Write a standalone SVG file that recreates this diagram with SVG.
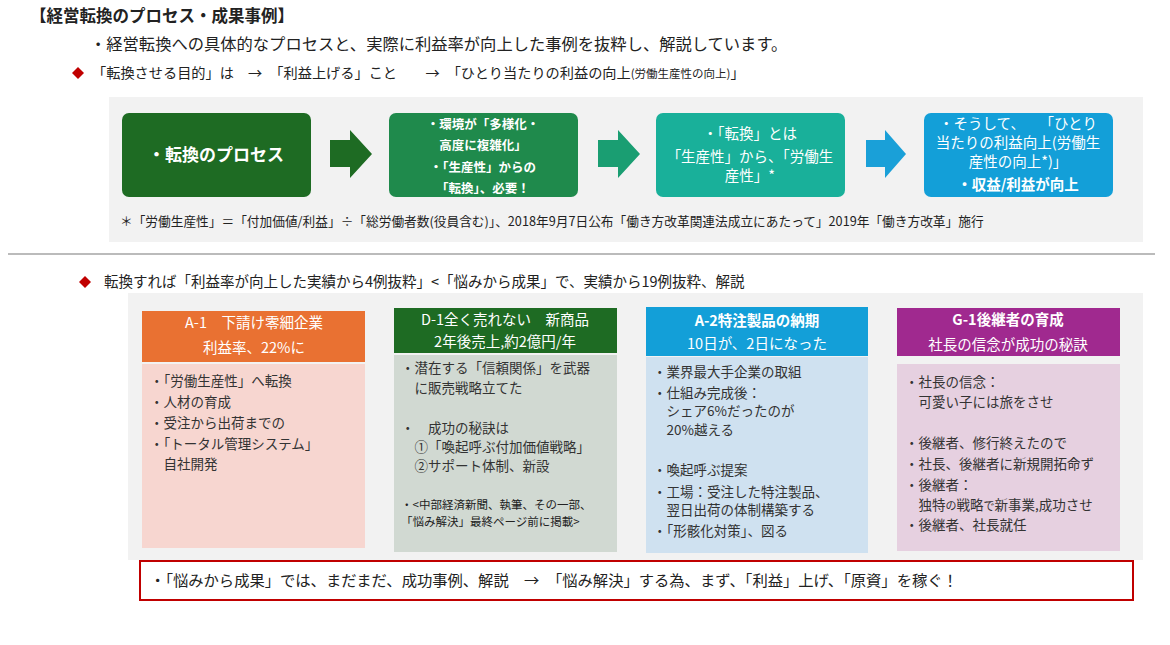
<svg xmlns="http://www.w3.org/2000/svg" width="1170" height="645" viewBox="0 0 1170 645">
<style>
text{font-family:"Noto Sans CJK JP","Noto Sans",sans-serif;fill:#222;}
.w{fill:#fff;}
.b{font-weight:bold;}
.c{text-anchor:middle;}
.body{font-size:13.5px;fill:#333;}
.hd{font-size:14.5px;fill:#fff;text-anchor:middle;}
</style>
<defs>
<path id="diam" d="M0,-6 L6,0 L0,6 L-6,0Z" fill="#c00000"/>
</defs>
<rect width="1170" height="645" fill="#fff"/>

<g id="header">
<text x="30" y="22" font-size="16.5" class="b">【経営転換のプロセス・成果事例】</text>
<text x="90" y="50" font-size="16.3">・経営転換への具体的なプロセスと、実際に利益率が向上した事例を抜粋し、解説しています。</text>
<use href="#diam" x="78" y="73"/>
<text x="92" y="78" font-size="14.2">「転換させる目的」は　→　「利益上げる」こと　　→　「ひとり当たりの利益の向上<tspan font-size="11.5">(労働生産性の向上)</tspan>」</text>
</g>

<g id="process-panel">
<rect x="109" y="97" width="1034" height="145" fill="#f2f2f2"/>
<text x="120" y="226" font-size="12.7">＊「労働生産性」＝「付加価値/利益」÷「総労働者数(役員含む)」、2018年9月7日公布「働き方改革関連法成立にあたって」2019年「働き方改革」施行</text>
</g>

<g id="step1">
<rect x="122" y="113" width="189" height="84" rx="7" fill="#1e6b23"/>
<text x="216" y="161" font-size="17" class="w c b">・転換のプロセス</text>
</g>
<g id="step2">
<rect x="389" y="113" width="189" height="84" rx="7" fill="#1f8a4c"/>
<text x="483" y="129" font-size="12.5" class="w c b">・環境が「多様化・</text>
<text x="483" y="150" font-size="12.5" class="w c b">高度に複雑化」</text>
<text x="483" y="172" font-size="12.5" class="w c b">・「生産性」からの</text>
<text x="483" y="193" font-size="12.5" class="w c b">「転換」、必要！</text>
</g>
<g id="step3">
<rect x="656" y="113" width="189" height="84" rx="7" fill="#19b09a"/>
<text x="750" y="139" font-size="14.5" class="w c">・「転換」とは</text>
<text x="750" y="162" font-size="14.5" class="w c">「生産性」から、「労働生</text>
<text x="750" y="181" font-size="14.5" class="w c">産性」*</text>
</g>
<g id="step4">
<rect x="924" y="113" width="189" height="84" rx="7" fill="#139fd8"/>
<text x="1018" y="129" font-size="14.5" class="w c">・そうして、　　「ひとり</text>
<text x="1018" y="148" font-size="14.5" class="w c">当たりの利益向上(労働生</text>
<text x="1018" y="167" font-size="14.5" class="w c">産性の向上*)」</text>
<text x="1018" y="190" font-size="14.5" class="w c b">・収益/利益が向上</text>
</g>

<g id="connectors">
<path d="M330,140 H350 V130 L372,154 L350,178 V167 H330Z" fill="#1e6b23"/>
<path d="M598,140 H618 V130 L640,154 L618,178 V167 H598Z" fill="#1a9e72"/>
<path d="M866,140 H885 V130 L906,154 L885,178 V167 H866Z" fill="#1aa0d8"/>
</g>

<g id="divider">
<line x1="8" y1="254" x2="1155" y2="254" stroke="#bbb" stroke-width="2"/>
</g>

<g id="cases-title">
<use href="#diam" x="85" y="282"/>
<text x="104" y="287" font-size="14.5">転換すれば「利益率が向上した実績から4例抜粋」&lt;「悩みから成果」で、実績から19例抜粋、解説</text>
</g>

<g id="cases-panel">
<rect x="128" y="293" width="1015" height="267" fill="#f2f2f2"/>
</g>

<g id="case-a1">
<rect x="142" y="311" width="223" height="51" fill="#e97132"/>
<text x="254" y="328" class="hd">A-1　下請け零細企業</text>
<text x="254" y="353" class="hd">利益率、22%に</text>
<rect x="142" y="364" width="223" height="184" fill="#f7d6d0"/>
<text x="150" y="386" class="body">・「労働生産性」へ転換</text>
<text x="150" y="407" class="body">・人材の育成</text>
<text x="150" y="428" class="body">・受注から出荷までの</text>
<text x="150" y="449" class="body">・「トータル管理システム」</text>
<text x="150" y="469" class="body">　自社開発</text>
</g>

<g id="case-d1">
<rect x="394" y="308" width="223" height="45" fill="#1e6b23"/>
<text x="505" y="325" class="hd">D-1全く売れない　新商品</text>
<text x="505" y="347" class="hd">2年後売上,約2億円/年</text>
<rect x="394" y="355" width="223" height="197" fill="#d1d9d2"/>
<text x="401" y="373" class="body">・潜在する「信頼関係」を武器</text>
<text x="401" y="393" class="body">　に販売戦略立てた</text>
<text x="401" y="433" class="body">・　成功の秘訣は</text>
<text x="401" y="452" class="body">　①「喚起呼ぶ付加価値戦略」</text>
<text x="401" y="471" class="body">　②サポート体制、新設</text>
<text x="401" y="509" font-size="11.5" fill="#333">・&lt;中部経済新聞、執筆、その一部、</text>
<text x="401" y="526" font-size="11.5" fill="#333">「悩み解決」最終ページ前に掲載&gt;</text>
</g>

<g id="case-a2">
<rect x="646" y="307" width="222" height="49" fill="#139fd8"/>
<text x="757" y="326" class="hd b">A-2特注製品の納期</text>
<text x="757" y="349" class="hd">10日が、2日になった</text>
<rect x="646" y="357" width="222" height="196" fill="#cfe1f0"/>
<text x="653" y="377" class="body">・業界最大手企業の取組</text>
<text x="653" y="398" class="body">・仕組み完成後：</text>
<text x="653" y="416" class="body">　シェア6%だったのが</text>
<text x="653" y="435" class="body">　20%越える</text>
<text x="653" y="475" class="body">・喚起呼ぶ提案</text>
<text x="653" y="497" class="body">・工場：受注した特注製品、</text>
<text x="653" y="515" class="body">　翌日出荷の体制構築する</text>
<text x="653" y="536" class="body">・「形骸化対策」、図る</text>
</g>

<g id="case-g1">
<rect x="897" y="308" width="223" height="48" fill="#a0298f"/>
<text x="1008" y="325" class="hd b" font-size="17">G-1後継者の育成</text>
<text x="1008" y="350" class="hd" font-size="14">社長の信念が成功の秘訣</text>
<rect x="897" y="364" width="223" height="187" fill="#e6d0e0"/>
<text x="905" y="387" class="body">・社長の信念：</text>
<text x="905" y="407" class="body">　可愛い子には旅をさせ</text>
<text x="905" y="448" class="body">・後継者、修行終えたので</text>
<text x="905" y="469" class="body">・社長、後継者に新規開拓命ず</text>
<text x="905" y="490" class="body">・後継者：</text>
<text x="905" y="510" class="body">　独特<tspan font-size="11">の</tspan>戦略<tspan font-size="11">で</tspan>新事業,成功させ</text>
<text x="905" y="530" class="body">・後継者、社長就任</text>
</g>

<g id="summary">
<rect x="140" y="561" width="993" height="39" fill="#fff" stroke="#c00000" stroke-width="2"/>
<text x="150" y="586" font-size="15.3">・「悩みから成果」では、まだまだ、成功事例、解説　→　「悩み解決」する為、まず、「利益」上げ、「原資」を稼ぐ！</text>
</g>
</svg>
